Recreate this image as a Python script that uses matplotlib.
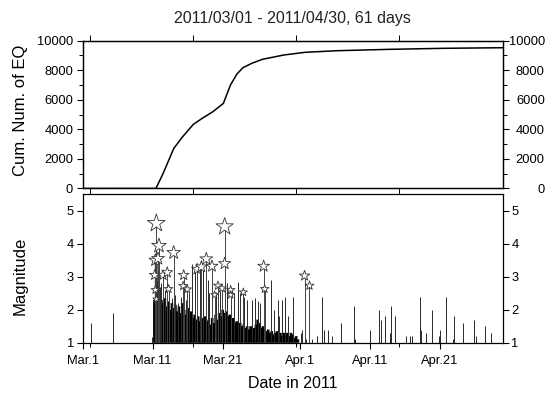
import matplotlib
matplotlib.use("Agg")
import matplotlib.pyplot as plt

plt.rcParams['font.family'] = ['Liberation Sans', 'DejaVu Sans']
plt.rcParams['text.color'] = '#222222'

# time axis: days after 2011/03/01 00:00
tick_days = [0, 10, 20, 31, 41, 51]
tick_names = ['Mar.1', 'Mar.11', 'Mar.21', 'Apr.1', 'Apr.11', 'Apr.21']
minor_days = [1.04, 15.8, 30.5, 45.2]

# cumulative number of earthquakes
cum_days = [0, 4.4, 10.3, 10.47, 11.49, 13.01, 14.27, 15.8, 17.06, 18.58, 20.1,
            21.11, 22.03, 22.89, 24.15, 25.67, 28.71, 31.75, 36.31, 43.9, 51.5, 60]
cum_counts = [0, 2, 3, 10, 1016, 2710, 3496, 4336, 4743, 5190, 5759,
              6999, 7744, 8171, 8469, 8740, 9031, 9214, 9323, 9417, 9485, 9526]

# swarm after Mar.11 (densely packed events)
swarm_days = [10.25, 10.50, 10.75, 11.00, 11.25, 11.50, 11.75, 12.00, 12.25, 12.50,
              12.75, 13.00, 13.25, 13.50, 13.75, 14.00, 14.25, 14.50, 14.75, 15.00,
              15.25, 15.50, 15.75, 16.00, 16.25, 16.50, 16.75, 17.00, 17.25, 17.50,
              17.75, 18.00, 18.25, 18.50, 18.75, 19.00, 19.25, 19.50, 19.75, 20.00,
              20.25, 20.50, 20.75, 21.00, 21.25, 21.50, 21.75, 22.00, 22.25, 22.50,
              22.75, 23.00, 23.25, 23.50, 23.75, 24.00, 24.25, 24.50, 24.75, 25.00,
              25.25, 25.50, 25.75, 26.00, 26.25, 26.50, 26.75, 27.00, 27.25, 27.50,
              27.75, 28.00, 28.25, 28.50, 28.75, 29.00, 29.25, 29.50, 29.75, 30.00,
              30.25, 30.50, 30.75]
swarm_mags = [2.3, 3.4, 2.6, 2.4, 2.3, 2.2, 2.35, 2.1, 2.25, 2.0,
              2.2, 2.05, 2.15, 1.95, 2.1, 1.9, 2.2, 2.0, 1.85, 2.05,
              1.8, 1.95, 1.75, 1.85, 1.7, 1.8, 1.65, 1.75, 1.6, 1.8,
              1.65, 1.7, 1.55, 1.75, 1.6, 1.85, 1.7, 1.9, 1.8, 2.0,
              1.9, 1.95, 1.8, 1.85, 1.7, 1.75, 1.6, 1.65, 1.55, 1.6,
              1.5, 1.55, 1.45, 1.5, 1.4, 1.5, 1.35, 1.45, 1.55, 1.7,
              1.6, 1.45, 1.5, 1.4, 1.35, 1.4, 1.3, 1.35, 1.25, 1.3,
              1.35, 1.25, 1.3, 1.2, 1.3, 1.25, 1.3, 1.2, 1.3, 1.25,
              1.15, 1.2, 1.1]

# isolated events
event_days = [1.26, 4.4, 9.97,
              10.62, 10.85, 11.0, 11.23, 11.71, 12.3, 12.7, 13.2, 13.6, 14.0,
              14.8, 15.2, 15.61, 15.99, 16.8, 17.2, 17.9, 18.1, 19.0, 19.6,
              20.6, 21.6, 22.2, 22.5, 23.0, 23.5, 24.2, 24.6, 25.0, 25.3,
              26.94, 27.4, 27.9, 28.1, 28.46, 28.87, 29.4, 29.98,
              31.2, 31.35, 31.9, 32.8, 33.5, 34.2, 34.5, 35.05, 35.65, 36.97,
              38.7, 38.9, 41.0, 41.05, 42.4, 42.6, 43.26, 43.9, 44.0, 44.1,
              44.67, 46.2, 46.7, 47.1, 48.2, 48.3, 49.1, 49.9, 50.9, 51.05,
              51.1, 51.9, 52.9, 53.0, 54.3, 55.9, 56.2, 57.5, 58.4]
event_mags = [1.6, 1.9, 1.17,
              2.9, 3.3, 2.7, 2.8, 2.6, 2.6, 2.35, 2.45, 2.2, 2.4,
              2.3, 2.5, 3.4, 3.25, 3.3, 3.2, 2.9, 2.5, 2.55, 2.7,
              2.8, 2.5, 2.85, 2.5, 2.4, 2.3, 2.3, 2.35, 2.25, 2.2,
              2.9, 2.0, 2.3, 1.8, 2.29, 2.39, 1.8, 2.4,
              1.3, 1.4, 1.1, 1.1, 1.2, 2.4, 1.4, 1.4, 1.2, 1.6,
              2.1, 1.1, 1.4, 1.2, 2.0, 1.7, 1.8, 1.3, 2.1, 1.2,
              1.8, 1.2, 1.2, 1.2, 2.4, 1.4, 1.3, 2.0, 1.2, 1.4,
              1.2, 2.4, 1.1, 1.8, 1.6, 1.7, 1.2, 1.5, 1.3]

# events marked with stars
star_days = [10.28, 10.38, 10.38, 10.52, 10.52, 10.76, 10.9, 11.47, 12.08, 12.28,
             13.0, 14.43, 14.35, 14.95, 16.37, 16.95, 17.66, 18.47, 18.85, 19.33,
             19.9, 20.28, 20.28, 21.14, 21.14, 22.95, 25.85, 26.0, 31.7, 32.4]
star_mags = [3.05, 3.5, 2.6, 4.62, 2.32, 3.55, 3.94, 3.05, 3.13, 2.63,
             3.73, 3.05, 2.72, 2.62, 3.23, 3.3, 3.54, 3.32, 2.45, 2.73,
             2.65, 4.52, 3.4, 2.6, 2.45, 2.53, 3.32, 2.63, 3.03, 2.73]

fig = plt.figure(figsize=(5.56, 3.96), dpi=100)
ax1 = fig.add_axes([0.1487, 0.524, 0.7554, 0.3732])
ax2 = fig.add_axes([0.1487, 0.1346, 0.7554, 0.3747])

for ax in (ax1, ax2):
    for sp in ax.spines.values():
        sp.set_linewidth(0.9)
    ax.set_xlim(0, 60)

# --- cumulative number ---
ax1.plot(cum_days, cum_counts, color='black', lw=1.1)
ax1.set_ylim(0, 10000)
ax1.set_yticks(range(0, 10001, 2000))
ax1.set_yticks(range(1000, 10000, 2000), minor=True)
ax1.tick_params(axis='y', which='major', direction='out', length=4.3, width=0.8,
                labelsize=9.3, pad=2.5)
ax1.tick_params(axis='y', which='minor', direction='out', length=3, width=0.7)
ax1.set_xticks(minor_days)
ax1.set_xticks([], minor=True)
ax1.tick_params(axis='x', which='major', direction='out', top=True, bottom=True,
                labelbottom=False, length=4, width=0.7)
ax1.set_ylabel('Cum. Num. of EQ', fontsize=12)
ax1.yaxis.set_label_coords(-0.131, 0.528)
ax1.set_title('2011/03/01 - 2011/04/30, 61 days', fontsize=11.5, pad=12.5)

ax1r = ax1.twinx()
ax1r.set_ylim(0, 10000)
ax1r.set_yticks(range(0, 10001, 2000))
ax1r.set_yticks(range(1000, 10000, 2000), minor=True)
ax1r.tick_params(axis='y', which='major', direction='out', length=4.3, width=0.8,
                 labelsize=9.3, pad=26)
ax1r.tick_params(axis='y', which='minor', direction='out', length=3, width=0.7)
plt.setp(ax1r.get_yticklabels(), ha='right')
for sp in ax1r.spines.values():
    sp.set_linewidth(0.9)

# --- magnitude ---
ax2.vlines(swarm_days, 1, swarm_mags, color='black', lw=1.9, snap=False)
ax2.vlines(event_days, 1, event_mags, color='#2a2a2a', lw=0.7)
ax2.vlines(star_days, 1, star_mags, color='#444444', lw=0.7)
star_size = [((4.4 * m - 3.5) * 0.8) ** 2 for m in star_mags]
ax2.scatter(star_days, star_mags, s=star_size, marker='*', facecolor='white',
            edgecolor='#333333', linewidths=0.6, zorder=5)
ax2.set_ylim(1, 5.5)
ax2.set_yticks([1, 2, 3, 4, 5])
ax2.tick_params(axis='y', direction='out', left=True, right=True, labelright=True,
                length=4.3, width=0.8, labelsize=9.3, pad=2)
ax2.set_xticks(tick_days)
ax2.set_xticklabels(tick_names)
ax2.set_xticks(minor_days, minor=True)
ax2.tick_params(axis='x', which='major', direction='out', length=4, width=0.8,
                labelsize=9.3, pad=5)
ax2.tick_params(axis='x', which='minor', direction='out', length=3, width=0.7)
ax2.set_ylabel('Magnitude', fontsize=12)
ax2.yaxis.set_label_coords(-0.131, 0.45)
ax2.set_xlabel('Date in 2011', fontsize=11.5, labelpad=6)

fig.savefig('out.png', dpi=100)
